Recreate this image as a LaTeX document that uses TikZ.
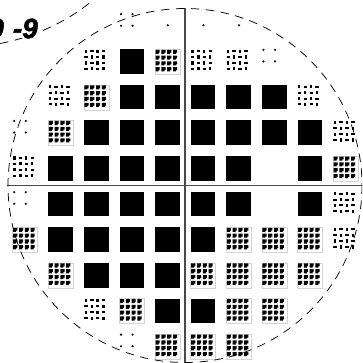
\documentclass[tikz,border=0pt]{standalone}
\usepackage{xcolor}
\usepackage{fontspec}
\setsansfont{Liberation Sans}[BoldItalicFeatures={FakeBold=2}]
\definecolor{grigio}{HTML}{D4D4D4}
\definecolor{croce}{HTML}{4A4A4A}
\tikzset{
    bordo/.style={dash pattern=on 8.5pt off 6.5pt, line width=0.75pt, black},
    numero/.style={inner sep=0pt, font=\sffamily\bfseries\itshape\fontsize{28}{28}\selectfont}
}
% Celle del reticolo: colonna, riga
\newcommand{\pieno}[2]{\fill[black] ({12.7+35.6*#1},{13.7+35.6*#2}) rectangle +(24.6,24.6);}
\newcommand{\fitto}[2]{
    \draw[grigio, line width=0.5pt] ({12.7+35.6*#1},{13.7+35.6*#2}) rectangle +(25,25);
    \foreach \i in {0,1,2,3} \foreach \j in {0,1,2,3}
        \fill[black] ({13.2+35.6*#1+5.8*\i},{14.2+35.6*#2+5.8*\j}) -- +(4.1,0) -- +(4.1,2.9) -- +(3,2.9) -- +(3,4.1) -- +(0,4.1) -- cycle;}
\newcommand{\rado}[2]{
    \foreach \i in {0,1,2,3} \foreach \j in {0,1,2,3} {
        \pgfmathtruncatemacro{\k}{mod(\i+\j,2)}
        \ifnum\k=0
            \fill[black] ({13.4+35.6*#1+5.9*\i},{14+35.6*#2+5.9*\j}) rectangle +(2.2,3.2);
        \else
            \fill[black] ({12.9+35.6*#1+5.9*\i},{14.6+35.6*#2+5.9*\j}) rectangle +(3.5,2);
        \fi}}
\newcommand{\punti}[2]{
    \foreach \i in {0,1} \foreach \j in {0,1}
        \fill[black] ({14.2+35.6*#1+11.6*\i},{14.2+35.6*#2+11.6*\j}) circle (1.2);}
\newcommand{\punto}[2]{\fill[black] ({25.4+35.6*#1},{25.3+35.6*#2}) circle (1.2);}

\begin{document}
\begin{tikzpicture}[x=1pt,y=-1pt]
    \useasboundingbox (0,0) rectangle (362,363);
    \clip (0,0) rectangle (362,363);
    % Celle piene
    \foreach \c/\r in {3/1,3/2,4/2,5/2,6/2,7/2,2/3,3/3,4/3,5/3,6/3,7/3,8/3,1/4,2/4,3/4,4/4,5/4,6/4,8/4,
        1/5,2/5,3/5,4/5,5/5,6/5,8/5,1/6,2/6,3/6,4/6,5/6,2/7,3/7,4/7,4/8,5/8} {\pieno{\c}{\r}}
    % Celle fitte
    \foreach \c/\r in {4/1,2/2,1/3,9/4,0/6,6/6,7/6,8/6,1/7,5/7,6/7,7/7,8/7,3/8,6/8,7/8,4/9,5/9,6/9} {\fitto{\c}{\r}}
    % Celle rade
    \foreach \c/\r in {2/1,5/1,6/1,1/2,8/2,9/3,0/4,9/5,9/6,2/8} {\rado{\c}{\r}}
    % Quattro punti e punto singolo
    \foreach \c/\r in {3/0,7/1,0/3,0/5,3/9} {\punti{\c}{\r}}
    \foreach \c/\r in {4/0,5/0,6/0} {\punto{\c}{\r}}
    % Croce centrale
    \draw[croce, line width=1.2pt] (185,8) -- (185,363);
    \draw[croce, line width=1.2pt] (7,185.7) -- (362,185.7);
    % Bordo della fetta
    \draw[bordo] (185,185.5) circle (177);
    \draw[bordo] (0,43.5) .. controls (35,37) and (70,20) .. (93,0);
    % Etichette
    \node[numero, anchor=east] (sinistra) at (4,28.5) {9};
    \node[numero, anchor=east, fill=white, inner xsep=1pt] (destra) at (39,28.5) {-9};
\end{tikzpicture}
\end{document}
